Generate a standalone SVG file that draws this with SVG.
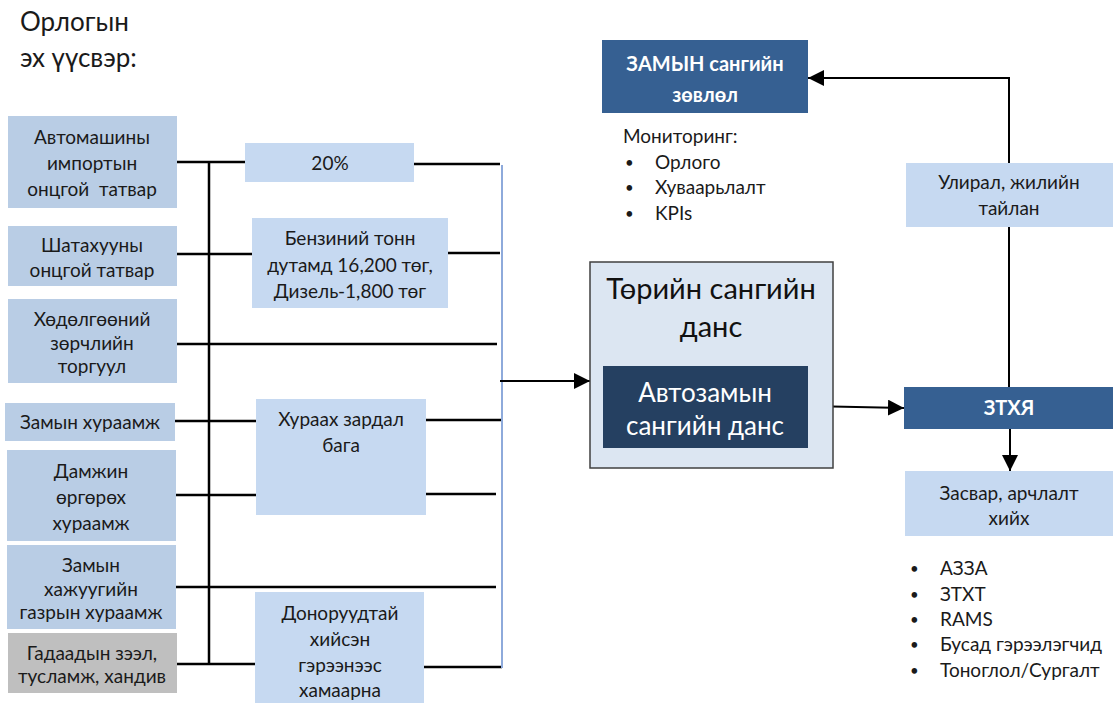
<svg xmlns="http://www.w3.org/2000/svg" width="1113" height="704" viewBox="0 0 1113 704">
<defs>
<marker id="ah" markerUnits="userSpaceOnUse" markerWidth="16" markerHeight="16" viewBox="0 0 16 16" refX="16" refY="8" orient="auto">
<path d="M0,0 L16,8 L0,16 Z" fill="#000"/>
</marker>
</defs>
<style>
.t{font-family:"Lato","Liberation Sans",sans-serif;font-size:19px;fill:#1a1a1a;text-anchor:middle}
.tl{font-family:"Lato","Liberation Sans",sans-serif;font-size:19px;fill:#1a1a1a}
.bu{font-family:"Lato","Liberation Sans",sans-serif;font-size:15px;fill:#1a1a1a}
.src{fill:#B9CDE5}
.mid{fill:#C6D9F1}
.gray{fill:#BFBFBF}
.dark{fill:#366092}
.w{font-family:"Lato","Liberation Sans",sans-serif;font-size:20px;font-weight:bold;fill:#fff;text-anchor:middle}
.c{stroke:#000;stroke-width:2.5;fill:none}
.ca{stroke:#000;stroke-width:2;fill:none;marker-end:url(#ah)}
.big{font-family:"Lato","Liberation Sans",sans-serif;font-size:29px;fill:#111;text-anchor:middle}
.inn{font-family:"Lato","Liberation Sans",sans-serif;font-size:26px;fill:#fff;text-anchor:middle}
.ttl{font-family:"Lato","Liberation Sans",sans-serif;font-size:26px;fill:#1a1a1a}
</style>
<rect width="1113" height="704" fill="#fff"/>
<g id="connectors">
<line class="c" x1="177" y1="162" x2="245" y2="162"/>
<line class="c" x1="209" y1="161" x2="209" y2="664"/>
<line class="c" x1="414" y1="164" x2="500" y2="164"/>
<line class="c" x1="177" y1="254" x2="252" y2="254"/>
<line class="c" x1="448" y1="253" x2="500" y2="253"/>
<line class="c" x1="174" y1="344" x2="497" y2="344"/>
<line class="c" x1="175" y1="421" x2="256" y2="421"/>
<line class="c" x1="426" y1="420" x2="502" y2="420"/>
<line class="c" x1="176" y1="495" x2="256" y2="495"/>
<line class="c" x1="426" y1="494" x2="496" y2="494"/>
<line class="c" x1="176" y1="587" x2="496" y2="587"/>
<line class="c" x1="174" y1="664" x2="255" y2="664"/>
<line class="c" x1="424" y1="667" x2="502" y2="667"/>
<line x1="502" y1="165" x2="502" y2="668" stroke="#8EAADB" stroke-width="2"/>
<line class="ca" x1="500" y1="381" x2="590" y2="381"/>
<line class="ca" x1="808" y1="406" x2="904" y2="408"/>
<polyline class="ca" points="1009,387 1009,78 808,78"/>
<line class="ca" x1="1010" y1="429" x2="1010" y2="471"/>
</g>
<g id="title">
<text class="ttl" x="20" y="31">Орлогын</text>
<text class="ttl" x="20" y="67">эх үүсвэр:</text>
</g>
<g id="n-auto"><rect class="src" x="8" y="116" width="169" height="92"/>
<text class="t" x="92" y="144">Автомашины</text><text class="t" x="92" y="170">импортын</text><text class="t" x="92" y="196" xml:space="preserve">онцгой  татвар</text></g>
<g id="n-fuel"><rect class="src" x="8" y="226" width="169" height="60"/>
<text class="t" x="92" y="252">Шатахууны</text><text class="t" x="92" y="277">онцгой татвар</text></g>
<g id="n-fine"><rect class="src" x="8" y="299" width="169" height="84"/>
<text class="t" x="92" y="326">Хөдөлгөөний</text><text class="t" x="92" y="350">зөрчлийн</text><text class="t" x="92" y="373">торгуул</text></g>
<g id="n-toll"><rect class="src" x="5" y="403" width="170" height="38"/>
<text class="t" x="90" y="429">Замын хураамж</text></g>
<g id="n-transit"><rect class="src" x="7" y="450" width="169" height="91"/>
<text class="t" x="91" y="478">Дамжин</text><text class="t" x="91" y="504">өргөрөх</text><text class="t" x="91" y="530">хураамж</text></g>
<g id="n-land"><rect class="src" x="7" y="545" width="169" height="84"/>
<text class="t" x="91" y="572">Замын</text><text class="t" x="91" y="596">хажуугийн</text><text class="t" x="91" y="619">газрын хураамж</text></g>
<g id="n-loan"><rect class="gray" x="8" y="633" width="169" height="60"/>
<text class="t" x="92" y="660">Гадаадын зээл,</text><text class="t" x="92" y="683">тусламж, хандив</text></g>
<g id="n-20"><rect class="mid" x="245" y="143" width="169" height="39"/>
<text class="t" x="330" y="170">20%</text></g>
<g id="n-petrol"><rect class="mid" x="252" y="218" width="196" height="90"/>
<text class="t" x="350" y="245">Бензиний тонн</text><text class="t" x="350" y="272">дутамд 16,200 төг,</text><text class="t" x="350" y="298">Дизель-1,800 төг</text></g>
<g id="n-cost"><rect class="mid" x="256" y="399" width="170" height="116"/>
<text class="t" x="341" y="426">Хураах зардал</text><text class="t" x="341" y="452">бага</text></g>
<g id="n-donor"><rect class="mid" x="255" y="592" width="169" height="111"/>
<text class="t" x="340" y="620">Доноруудтай</text><text class="t" x="340" y="646">хийсэн</text><text class="t" x="340" y="672">гэрээнээс</text><text class="t" x="340" y="697">хамаарна</text></g>
<g id="n-treasury"><rect x="590" y="262" width="243" height="206" fill="#DCE6F2" stroke="#404040" stroke-width="1.5"/>
<text class="big" x="711" y="299">Төрийн сангийн</text>
<text class="big" x="711" y="337">данс</text></g>
<g id="n-roadacct"><rect x="603" y="366" width="205" height="82" fill="#254061"/>
<text class="inn" x="705" y="402">Автозамын</text>
<text class="inn" x="705" y="435">сангийн данс</text></g>
<g id="n-council"><rect class="dark" x="602" y="40" width="206" height="73"/>
<text class="w" x="705" y="71">ЗАМЫН сангийн</text><text class="w" x="705" y="102">зөвлөл</text></g>
<g id="n-monitor">
<text class="tl" x="623" y="143">Мониторинг:</text>
<text class="bu" x="625" y="168">•</text><text class="tl" x="655" y="169">Орлого</text>
<text class="bu" x="625" y="193">•</text><text class="tl" x="655" y="194">Хуваарьлалт</text>
<text class="bu" x="625" y="219">•</text><text class="tl" x="655" y="220">KPIs</text>
</g>
<g id="n-report"><rect class="mid" x="906" y="163" width="207" height="64"/>
<text class="t" x="1009" y="189">Улирал, жилийн</text><text class="t" x="1009" y="215">тайлан</text></g>
<g id="n-ztkhya"><rect class="dark" x="904" y="387" width="209" height="42"/>
<text class="w" x="1009" y="415">ЗТХЯ</text></g>
<g id="n-repair"><rect class="mid" x="905" y="471" width="208" height="65"/>
<text class="t" x="1009" y="500">Засвар, арчлалт</text><text class="t" x="1009" y="525">хийх</text></g>
<g id="n-list">
<text class="bu" x="910" y="574">•</text><text class="tl" x="940" y="575">АЗЗА</text>
<text class="bu" x="910" y="600">•</text><text class="tl" x="940" y="601">ЗТХТ</text>
<text class="bu" x="910" y="625">•</text><text class="tl" x="940" y="626">RAMS</text>
<text class="bu" x="910" y="650">•</text><text class="tl" x="940" y="651">Бусад гэрээлэгчид</text>
<text class="bu" x="910" y="676">•</text><text class="tl" x="940" y="677">Тоноглол/Сургалт</text>
</g>
</svg>
